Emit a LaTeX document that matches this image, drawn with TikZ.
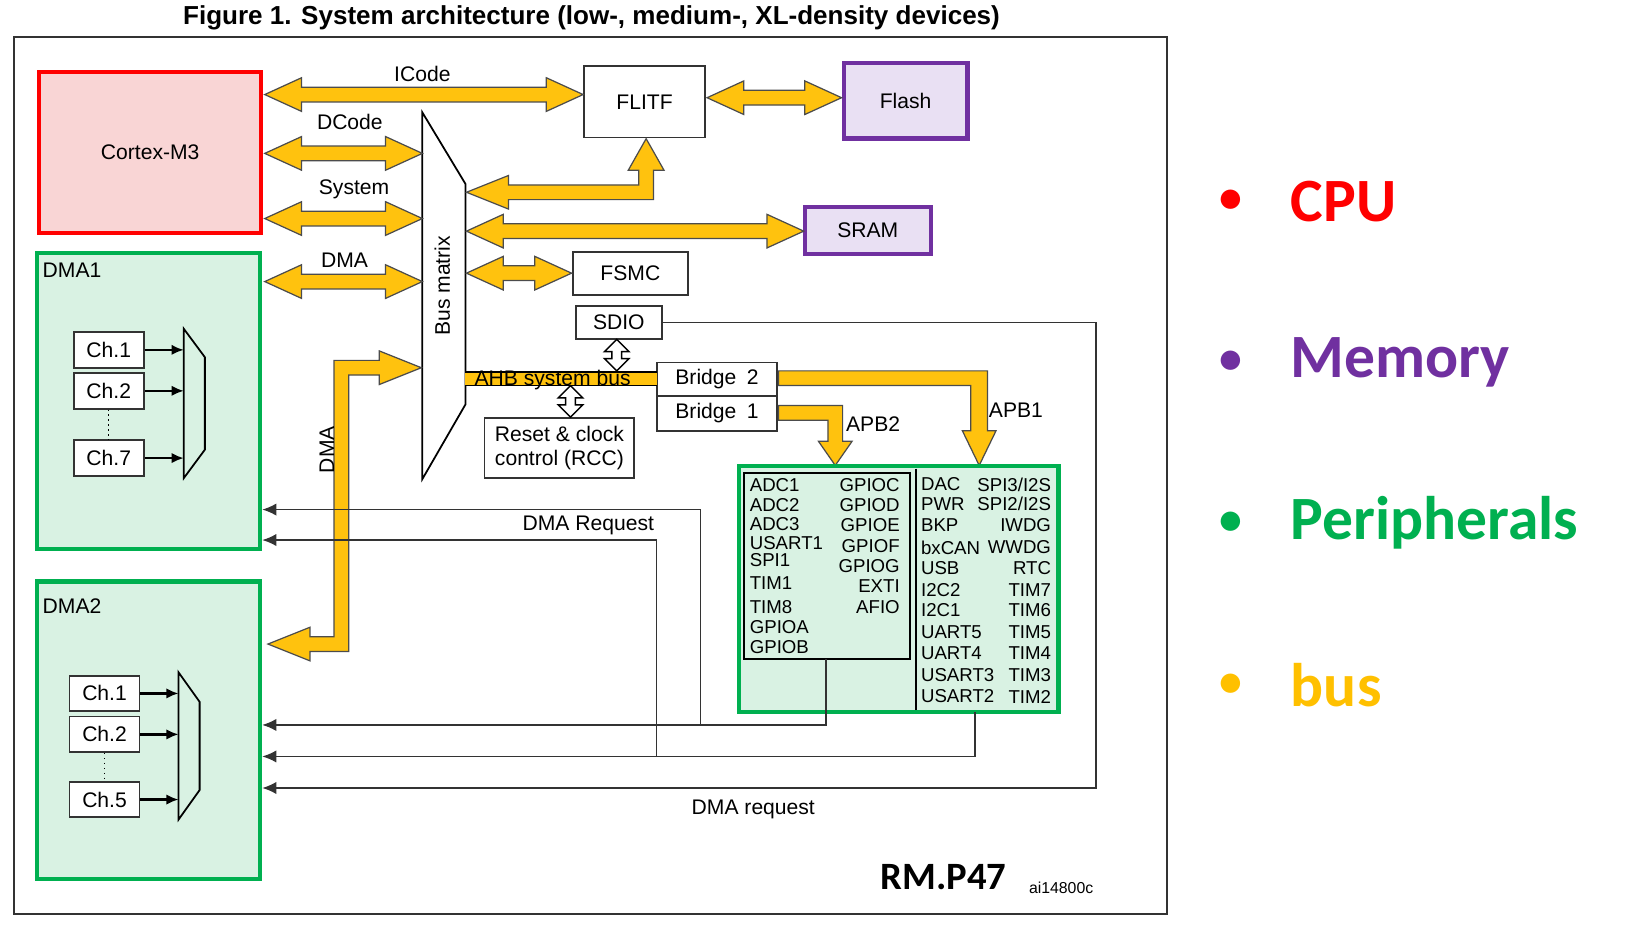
\documentclass[tikz,border=0pt]{standalone}
\usepackage{fontspec}
\setmainfont{Liberation Sans}
\newfontfamily\calib{Carlito}
\usetikzlibrary{shapes.arrows,arrows.meta}
\definecolor{busy}{HTML}{FFC20E}
\definecolor{cpur}{HTML}{FF0000}
\definecolor{cpuf}{HTML}{F9D5D5}
\definecolor{memp}{HTML}{7030A0}
\definecolor{memf}{HTML}{E9E0F3}
\definecolor{perg}{HTML}{00B050}
\definecolor{perf}{HTML}{D9F2E3}
\definecolor{legy}{HTML}{FFC000}
\def\u{0.2977pt}
\newcommand\hdbl[3]{\filldraw[bus] (#1,#3) -- ++(35,-16) -- ++(0,9) -- ({#2-35},{#3-7}) -- ++(0,-9) -- (#2,#3) -- ({#2-35},{#3+16}) -- ++(0,-9) -- ({#1+35},{#3+7}) -- ++(0,9) -- cycle;}
\begin{document}
\begin{tikzpicture}[x=0.0105cm,y=-0.0105cm,
  bus/.style={fill=busy,draw=black!70,line width=0.35pt},
  box/.style={draw=black!80,line width=0.5pt,fill=white,inner sep=0pt,font=\fontsize{6}{7}\selectfont,align=center},
  ch/.style={box,minimum width=67*\u,minimum height=34*\u},
  lbl/.style={font=\fontsize{6}{7}\selectfont,inner sep=0pt},
  per/.style={font=\fontsize{5.3}{6}\selectfont,inner sep=0pt},
  req/.style={line width=0.4pt,draw=black!80},
  rq/.style={req,-{Latex[length=4pt,width=3.5pt]}},
  mx/.style={-{Latex[length=3.5pt,width=3pt]},line width=0.7pt},
  hol/.style={double arrow,draw,fill=white,line width=0.4pt,minimum height=9pt,minimum width=7pt,double arrow head extend=1.2pt,inner sep=0.6pt,rotate=90},
  leg/.style={font=\calib\bfseries\fontsize{17.5}{20}\selectfont,anchor=west,inner sep=0pt},
  bul/.style={font=\calib\bfseries\fontsize{13}{15}\selectfont,anchor=west,inner sep=0pt}]
\useasboundingbox (0,0) rectangle (1560,883);
\fill[white] (0,0) rectangle (1560,883);
\node[font=\bfseries\fontsize{7.4}{9}\selectfont,inner sep=0pt] (title) at (563,17) {Figure 1. System architecture (low-, medium-, XL-density devices)};
\draw[black!80,line width=0.6pt] (13,35) rectangle (1111,870);
% CPU and DMA
\node[box,draw=cpur,fill=cpuf,line width=1.2pt,minimum width=212*\u,minimum height=154*\u] (cm3) at (143,145) {Cortex-M3};
\node[box,draw=perg,fill=perf,line width=1.2pt,minimum width=213*\u,minimum height=283*\u] (dma1) at (141.5,381.5) {};
\node[lbl,anchor=north west] (d1l) at (40,250) {DMA1};
\node[box,draw=perg,fill=perf,line width=1.2pt,minimum width=213*\u,minimum height=284*\u] (dma2) at (141.5,695) {};
\node[lbl,anchor=north west] (d2l) at (40,569) {DMA2};
\node[ch] (a1) at (103.5,333) {Ch.1};
\node[ch] (a2) at (103.5,372) {Ch.2};
\node[ch] (a7) at (103.5,436) {Ch.7};
\draw[densely dotted] (a2.south) -- (a7.north);
\draw[fill=perf,line width=0.5pt] (175,313) -- (195,340) -- (195,428) -- (175,455) -- cycle;
\foreach \c in {a1,a2,a7} \draw[mx] (\c.east) -- (175,0 |- \c.east);
\node[ch] (b1) at (99.5,660) {Ch.1};
\node[ch] (b2) at (99.5,699) {Ch.2};
\node[ch] (b5) at (99.5,761) {Ch.5};
\draw[densely dotted] (b2.south) -- (b5.north);
\draw[fill=perf,line width=0.5pt] (170,640) -- (190,668) -- (190,752) -- (170,780) -- cycle;
\foreach \c in {b1,b2,b5} \draw[mx] (\c.east) -- (170,0 |- \c.east);
% bus matrix
\draw[fill=white,line width=0.5pt] (402,107) -- (443,175) -- (443,385) -- (402,456) -- cycle;
\node[lbl,rotate=90,font=\fontsize{6}{7}\selectfont] (bm) at (421,272) {Bus matrix};
% memories
\node[box,minimum width=115*\u,minimum height=68*\u] (flitf) at (613.5,97) {FLITF};
\node[box,draw=memp,fill=memf,line width=1.2pt,minimum width=118*\u,minimum height=72*\u] (flash) at (862,96) {Flash};
\node[box,draw=memp,fill=memf,line width=1.2pt,minimum width=120*\u,minimum height=45*\u] (sram) at (826,219.5) {SRAM};
\node[box,minimum width=110*\u,minimum height=41*\u] (fsmc) at (600,260.5) {FSMC};
\node[box,minimum width=82*\u,minimum height=32*\u] (sdio) at (589,307) {SDIO};
\node[box,minimum width=115*\u,minimum height=32*\u] (br2) at (682.5,361) {Bridge\enspace 2};
\node[box,minimum width=115*\u,minimum height=33*\u] (br1) at (682.5,393.5) {Bridge\enspace 1};
\node[box,minimum width=143*\u,minimum height=57*\u] (rcc) at (532.5,426.5) {Reset \& clock\\control (RCC)};
% bus arrows
\hdbl{252}{555}{90}
\node[lbl] (icode) at (402,70) {ICode};
\hdbl{673}{801}{93}
\hdbl{252}{402}{146}
\node[lbl] (dcode) at (333,116) {DCode};
\hdbl{252}{402}{208}
\node[lbl] (sys) at (337,180) {System};
\hdbl{252}{402}{268}
\node[lbl] (dmal) at (328,248) {DMA};
\hdbl{444}{765}{220}
\hdbl{444}{544}{260}
\filldraw[bus] (444,183) -- (484,167) -- (484,176) -- (608,176) -- (608,162) -- (598,162) -- (615,132) -- (632,162) -- (622,162) -- (622,190) -- (484,190) -- (484,199) -- cycle;
\filldraw[bus] (401,350) -- (361,334) -- (361,343) -- (318,343) -- (318,606) -- (295,606) -- (295,597) -- (255,613) -- (295,629) -- (295,620) -- (332,620) -- (332,357) -- (361,357) -- (361,366) -- cycle;
\node[lbl,rotate=90] (dmav) at (311,428) {DMA};
% AHB
\fill[busy] (443,354) rectangle (625,367);
\draw[line width=0.4pt] (443,354) -- (625,354) (443,367) -- (625,367);
\node[lbl] (ahb) at (526,362) {AHB system bus};
\node[hol] (h1) at (587,338) {};
\node[hol] (h2) at (543,382) {};
% APB
\filldraw[bus] (741,353) -- (940,353) -- (940,410) -- (948,410) -- (932,443) -- (916,410) -- (924,410) -- (924,367) -- (741,367) -- cycle;
\filldraw[bus] (741,386) -- (802,386) -- (802,420) -- (811,420) -- (795,443) -- (779,420) -- (788,420) -- (788,400) -- (741,400) -- cycle;
\node[lbl] (apb1) at (967,390) {APB1};
\node[lbl] (apb2) at (831,404) {APB2};
% peripherals
\node[box,draw=perg,fill=perf,line width=1.2pt,minimum width=305*\u,minimum height=235*\u] (per) at (855.5,560.5) {};
\draw[line width=0.5pt] (708,450) rectangle (866,627);
\draw[line width=0.5pt] (872,446) -- (872,676);
\foreach \t/\y [count=\i] in {ADC1/462,ADC2/481,ADC3/499,USART1/517,SPI1/533,TIM1/555,TIM8/578,GPIOA/597,GPIOB/616}
  \node[per,anchor=west] (l\i) at (713,\y) {\t};
\foreach \t/\y [count=\i] in {GPIOC/462,GPIOD/481,GPIOE/500,GPIOF/520,GPIOG/539,EXTI/558,AFIO/578}
  \node[per,anchor=east] (m\i) at (857,\y) {\t};
\foreach \t/\y [count=\i] in {DAC/461,PWR/480,BKP/500,bxCAN/521,USB/541,I2C2/562,I2C1/581,UART5/602,UART4/622,USART3/643,USART2/663}
  \node[per,anchor=west] (r\i) at (876,\y) {\t};
\foreach \t/\y [count=\i] in {{SPI3/I2S}/461,{SPI2/I2S}/480,IWDG/500,WWDG/521,RTC/541,TIM7/562,TIM6/581,TIM5/602,TIM4/622,TIM3/643,TIM2/663}
  \node[per,anchor=east] (s\i) at (1001,\y) {\t};
% DMA request lines
\coordinate (p1) at (786,627);
\coordinate (p2) at (928,678);
\draw[rq] (p1) -- (786,690) -- (dma2.east |- 0,690);
\draw[rq] (p2) -- (928,720) -- (dma2.east |- 0,720);
\draw[rq] (sdio.east) -- (1043,307) -- (1043,750) -- (dma2.east |- 0,750);
\draw[rq] (667,690) -- (667,485) -- (dma1.east |- 0,485);
\draw[rq] (625,720) -- (625,514) -- (dma1.east |- 0,514);
\node[lbl] (dreq) at (560,500) {DMA Request};
\node[lbl] (dreq2) at (717,770) {DMA request};
\node[font=\calib\bfseries\fontsize{11}{13}\selectfont,inner sep=0pt] (rm) at (898,835) {RM.P47};
\node[font=\fontsize{4.5}{5}\selectfont,inner sep=0pt] (ai) at (1010,845) {ai14800c};
% legend
\foreach \t/\c/\y in {CPU/cpur/192,Memory/memp/345,Peripherals/perg/498,bus/legy/652}{
  \node[bul,text=\c] at (1160,\y) {\textbullet};
  \node[leg,text=\c] at (1228,\y) {\t};}
\end{tikzpicture}
\end{document}
